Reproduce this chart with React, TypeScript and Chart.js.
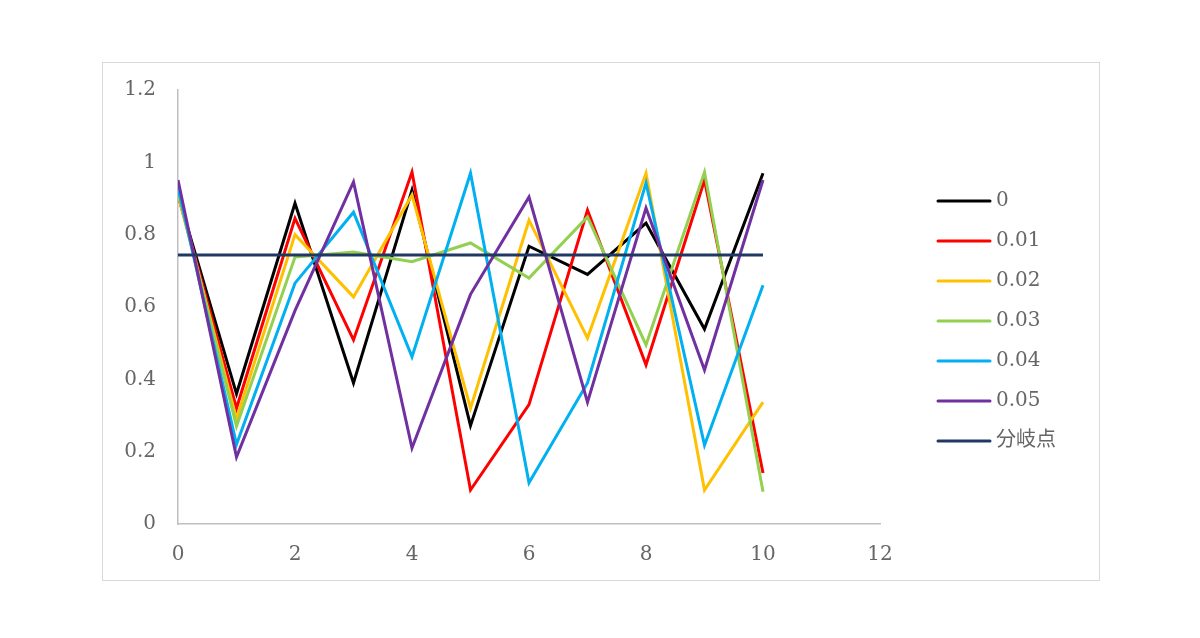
import React, { useEffect, useRef } from "react";
import { Chart, registerables } from "chart.js";

Chart.register(...registerables);

const xValues = [0, 1, 2, 3, 4, 5, 6, 7, 8, 9, 10];
const seriesNames = ["0", "0.01", "0.02", "0.03", "0.04", "0.05", "分岐点"];
const s0 = [0.91, 0.36, 0.887, 0.39, 0.923, 0.272, 0.768, 0.69, 0.832, 0.539, 0.97];
const s001 = [0.91, 0.32, 0.845, 0.509, 0.973, 0.094, 0.33, 0.868, 0.44, 0.951, 0.141];
const s002 = [0.91, 0.29, 0.8, 0.628, 0.91, 0.32, 0.84, 0.514, 0.97, 0.094, 0.337];
const s003 = [0.92, 0.27, 0.738, 0.752, 0.725, 0.777, 0.68, 0.849, 0.495, 0.973, 0.089];
const s004 = [0.93, 0.22, 0.666, 0.862, 0.462, 0.97, 0.114, 0.39, 0.943, 0.218, 0.66];
const s005 = [0.951, 0.185, 0.59, 0.946, 0.21, 0.635, 0.904, 0.337, 0.874, 0.426, 0.951];
const bifurcation = [0.744, 0.744];
const bifurcationX = [0, 10];
const colors = ["#000000", "#FF0000", "#FFC000", "#92D050", "#00B0F0", "#7030A0", "#1F3864"];
const xTicks = [0, 2, 4, 6, 8, 10, 12];
const yTicks = [0, 0.2, 0.4, 0.6, 0.8, 1, 1.2];

const FONT = "'DejaVu Serif', 'Noto Sans CJK JP', serif";
const TEXT = "#666666";

const legendPlugin = {
  id: "customLegend",
  afterDraw(chart: any) {
    const ctx = chart.ctx;
    ctx.save();
    chart.data.datasets.forEach((ds: any, i: number) => {
      const y = 138 + 40 * i;
      ctx.strokeStyle = ds.borderColor;
      ctx.lineWidth = 3;
      ctx.lineCap = "round";
      ctx.beginPath();
      ctx.moveTo(835, y);
      ctx.lineTo(887, y);
      ctx.stroke();
      ctx.fillStyle = TEXT;
      ctx.font = `20px ${FONT}`;
      ctx.textBaseline = "middle";
      ctx.textAlign = "left";
      ctx.fillText(ds.label, 893, y);
    });
    ctx.restore();
  },
};

export default function App() {
  const ref = useRef<HTMLCanvasElement>(null);
  useEffect(() => {
    const seriesData = [s0, s001, s002, s003, s004, s005];
    const datasets: any[] = seriesData.map((arr, i) => ({
      label: seriesNames[i],
      data: arr.map((v, j) => ({ x: xValues[j], y: v })),
      borderColor: colors[i],
      backgroundColor: colors[i],
      borderWidth: 3,
      pointRadius: 0,
      tension: 0,
      order: 6 - i,
    }));
    datasets.push({
      label: seriesNames[6],
      data: bifurcation.map((v, j) => ({ x: bifurcationX[j], y: v })),
      borderColor: colors[6],
      backgroundColor: colors[6],
      borderWidth: 3,
      pointRadius: 0,
      tension: 0,
      order: 0,
    });
    const chart = new Chart(ref.current!, {
      type: "line",
      data: { datasets },
      plugins: [legendPlugin],
      options: {
        responsive: false,
        animation: false,
        layout: { padding: { left: 0, top: 27, right: 219, bottom: 0 } },
        plugins: { legend: { display: false }, tooltip: { enabled: false } },
        scales: {
          x: {
            type: "linear",
            min: 0,
            max: 12,
            afterFit: (s: any) => {
              s.height = 56;
              s.paddingLeft = 0;
              s.paddingRight = 0;
            },
            afterBuildTicks: (s: any) => {
              s.ticks = xTicks.map((v) => ({ value: v }));
            },
            grid: { display: false },
            border: { display: true, color: "#BFBFBF", width: 1.5 },
            ticks: {
              color: TEXT,
              font: { family: FONT, size: 20 },
              padding: 11,
              maxRotation: 0,
              callback: (v: any) => String(v),
            },
          },
          y: {
            type: "linear",
            min: 0,
            max: 1.2,
            afterFit: (s: any) => {
              s.width = 75;
              s.paddingTop = 0;
              s.paddingBottom = 0;
            },
            afterBuildTicks: (s: any) => {
              s.ticks = yTicks.map((v) => ({ value: v }));
            },
            grid: { display: false },
            border: { display: true, color: "#BFBFBF", width: 1.5 },
            ticks: {
              color: TEXT,
              font: { family: FONT, size: 20 },
              padding: 14,
              callback: (v: any) => String(Number(Number(v).toFixed(2))),
            },
          },
        },
      },
    });
    return () => chart.destroy();
  }, []);
  return (
    <div
      style={{
        position: "absolute",
        left: 102,
        top: 62,
        width: 996,
        height: 517,
        border: "1px solid #D9D9D9",
        background: "#fff",
      }}
    >
      <canvas ref={ref} width={996} height={517} style={{ display: "block", width: 996, height: 517 }} />
    </div>
  );
}
